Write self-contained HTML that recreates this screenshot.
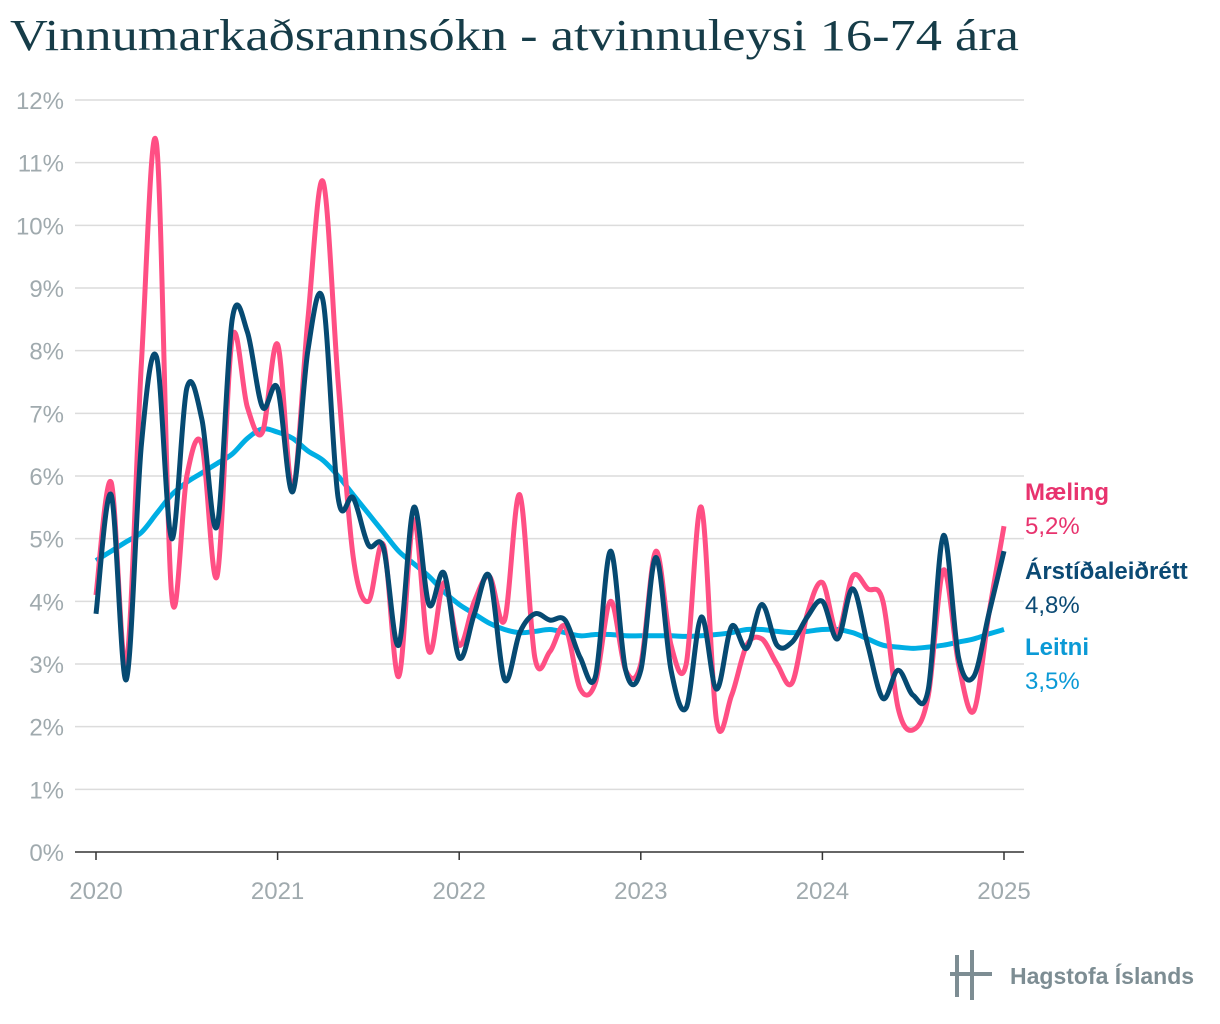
<!DOCTYPE html>
<html><head><meta charset="utf-8">
<style>
html,body{margin:0;padding:0;background:#fff;}
body{width:1220px;height:1024px;overflow:hidden;position:relative;font-family:"Liberation Sans",sans-serif;}
#title{position:absolute;left:10px;top:10px;font-family:"Liberation Serif",serif;font-size:44px;color:#163c48;white-space:nowrap;transform:scaleX(1.19);transform-origin:0 0;}
svg{position:absolute;left:0;top:0;}
</style></head><body>
<div id="title">Vinnumarkaðsrannsókn - atvinnuleysi 16-74 ára</div>
<svg id="chart" width="1220" height="1024"></svg>
<script>
const years = ["2020","2021","2022","2023","2024","2025"];
const yTicks = [0,1,2,3,4,5,6,7,8,9,10,11,12];
const maeling = [4.1,5.9,3.0,7.8,11.3,4.1,6.0,6.5,4.4,8.2,7.1,6.7,8.1,5.8,8.5,10.7,7.5,4.7,4.0,4.9,2.8,5.3,3.2,4.3,3.3,4.0,4.4,3.7,5.7,3.1,3.2,3.6,2.6,2.7,4.0,2.9,3.0,4.8,3.3,3.0,5.5,2.1,2.5,3.3,3.4,3.0,2.7,3.8,4.3,3.5,4.4,4.2,4.0,2.3,1.95,2.5,4.5,3.0,2.25,3.8,5.2];
const arstid = [3.8,5.7,2.75,6.5,7.9,5.0,7.4,6.9,5.2,8.5,8.3,7.1,7.4,5.75,8.0,8.8,5.65,5.65,4.9,4.85,3.3,5.5,3.95,4.45,3.1,3.8,4.4,2.75,3.5,3.8,3.7,3.7,3.1,2.8,4.8,2.9,2.9,4.7,2.9,2.3,3.75,2.6,3.6,3.25,3.95,3.3,3.35,3.75,4.0,3.4,4.2,3.3,2.45,2.9,2.5,2.6,5.05,3.1,2.8,3.8,4.8];
const leitni = [4.65,4.8,4.95,5.1,5.4,5.7,5.9,6.05,6.2,6.35,6.6,6.75,6.7,6.6,6.4,6.25,6.0,5.7,5.4,5.1,4.8,4.6,4.4,4.15,3.95,3.8,3.65,3.55,3.5,3.52,3.55,3.5,3.45,3.47,3.47,3.45,3.45,3.45,3.45,3.44,3.45,3.47,3.5,3.55,3.55,3.52,3.5,3.52,3.55,3.55,3.5,3.4,3.3,3.27,3.25,3.27,3.3,3.35,3.4,3.48,3.55];
const NS="http://www.w3.org/2000/svg";
const svg=document.getElementById('chart');
const x0=96,x1=1004,yb=852,yt=100;
const xs=i=>x0+(x1-x0)*i/60;
const ys=v=>yb-(yb-yt)*v/12;
function mk(t,a){const e=document.createElementNS(NS,t);for(const k in a)e.setAttribute(k,a[k]);svg.appendChild(e);return e;}
yTicks.forEach(v=>{
  if(v>0){const l=mk('line',{x1:75,x2:1024,y1:ys(v),y2:ys(v),stroke:'#dcdcdc','stroke-width':1.5});
  
  }
  const t=mk('text',{x:64,y:ys(v)+9,'text-anchor':'end','font-size':24,fill:'#a0aaae','font-family':'Liberation Sans'});
  t.textContent=v+'%';
  
  
});
const ax=mk('line',{x1:75,x2:1024,y1:yb,y2:yb,stroke:'#333','stroke-width':1.5});


years.forEach((y,k)=>{
  const x=xs(k*12);
  const tk=mk('line',{x1:x,x2:x,y1:yb,y2:yb+8,stroke:'#333','stroke-width':1.5});
  
  
  const t=mk('text',{x:x,y:yb+47,'text-anchor':'middle','font-size':24,fill:'#a0aaae','font-family':'Liberation Sans'});
  t.textContent=y;
  
  
});
function path(arr){
  const p=arr.map((v,i)=>[xs(i),ys(v)]);
  let d='M'+p[0][0]+','+p[0][1];
  for(let i=0;i<p.length-1;i++){
    const a=p[i-1]||p[i],b=p[i],c=p[i+1],e=p[i+2]||c;
    const c1=[b[0]+(c[0]-a[0])/6,b[1]+(c[1]-a[1])/6],c2=[c[0]-(e[0]-b[0])/6,c[1]-(e[1]-b[1])/6];
    d+=`C${c1[0]},${c1[1]} ${c2[0]},${c2[1]} ${c[0]},${c[1]}`;
  }
  return d;
}
const l1=mk('path',{d:path(leitni),fill:'none',stroke:'#00aee4','stroke-width':5,'stroke-linejoin':'round'});


const l2=mk('path',{d:path(maeling),fill:'none',stroke:'#ff4f84','stroke-width':5,'stroke-linejoin':'round'});


const l3=mk('path',{d:path(arstid),fill:'none',stroke:'#064a72','stroke-width':5,'stroke-linejoin':'round'});


const labels=[["Mæling","5,2%","#e8336e",500],["Árstíðaleiðrétt","4,8%","#0b4a74",579],["Leitni","3,5%","#0b9ad6",655]];
labels.forEach(L=>{
  const a=mk('text',{x:1025,y:L[3],'font-size':24,'font-weight':'bold',fill:L[2],'font-family':'Liberation Sans'});
  a.textContent=L[0];
  
  
  const b=mk('text',{x:1025,y:L[3]+34,'font-size':24,fill:L[2],'font-family':'Liberation Sans'});
  b.textContent=L[1];
  
  
});
const g=mk('g',{fill:'#7d8d93'});


[[955,955,8,42],[970,950,8,50]].forEach(r=>{const e=document.createElementNS(NS,'rect');e.setAttribute('x',r[0]);e.setAttribute('y',r[1]);e.setAttribute('width',4);e.setAttribute('height',r[3]);g.appendChild(e);});
const hb=document.createElementNS(NS,'rect');hb.setAttribute('x',950);hb.setAttribute('y',972);hb.setAttribute('width',42);hb.setAttribute('height',4);g.appendChild(hb);
const lt=mk('text',{x:1010,y:984,'font-size':23,'font-weight':'bold',fill:'#7d8d93','font-family':'Liberation Sans'});
lt.textContent='Hagstofa Íslands';


</script>
</body></html>
